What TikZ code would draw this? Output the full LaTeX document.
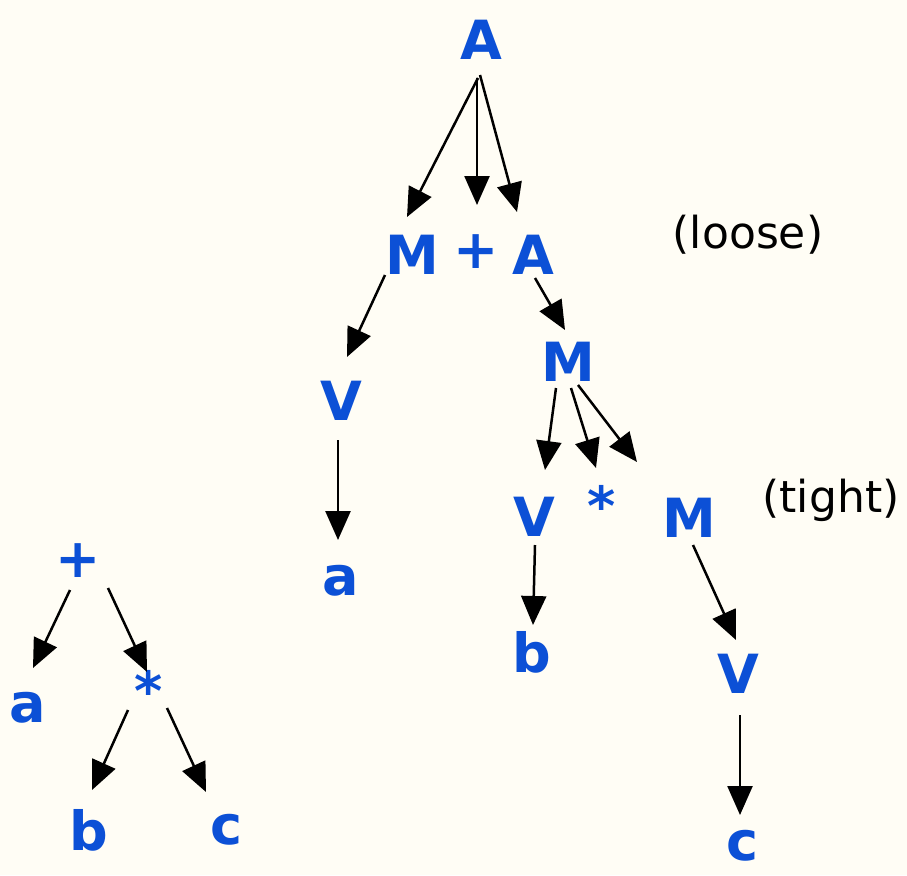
\documentclass[tikz,border=0pt]{standalone}
\usepackage{fontspec}
\setmainfont{DejaVu Sans}
\usetikzlibrary{arrows.meta,calc}
\definecolor{bg}{RGB}{255,253,245}
\definecolor{tblue}{RGB}{12,80,214}
\tikzset{
  sym/.style={inner sep=0pt,text=tblue,font=\fontsize{54}{60}\selectfont\bfseries},
  note/.style={inner sep=0pt,text=black,font=\fontsize{44}{50}\selectfont},
  arr/.style={draw=black,line width=2.5pt,-{Triangle[length=29pt,width=25pt]}}
}
\begin{document}
\begin{tikzpicture}[x=1pt,y=-1pt]
\fill[bg] (0,0) rectangle (907,875);
\useasboundingbox (0,0) rectangle (907,875);
% main tree
\node[sym] (A) at (481,40) {A};
\node[sym] (M) at (412,255) {M};
\node[sym] (P) at (476,252) {+};
\node[sym] (A2) at (533,255) {A};
\node[sym] (V1) at (341,401) {V};
\node[sym] (a1) at (341,581) {a};
\node[sym] (M2) at (568,362) {M};
\node[sym] (V2) at (534,517) {V};
\node[sym] (S) at (602,505) {*};
\node[sym] (M3) at (689,518) {M};
\node[sym] (b1) at (532,652) {b};
\node[sym] (V3) at (738,674) {V};
\node[sym] (c1) at (742,846) {c};
\node[note] (loose) at (748,235) {(loose)};
\node[note] (tight) at (831,500) {(tight)};
% left tree
\node[sym] (lp) at (78,561) {+};
\node[sym] (la) at (28,708) {a};
\node[sym] (ls) at (149,690) {*};
\node[sym] (lb) at (89,830) {b};
\node[sym] (lc) at (227,830) {c};
% arrows main
\draw[arr] ($(A)+(-3,38)$) -- ($(M)+(-5,-38)$);
\draw[arr] ($(A)+(-4,38)$) -- ($(P)+(1,-47)$);
\draw[arr] ($(A)+(-1,35)$) -- ($(A2)+(-16,-43)$);
\draw[arr] ($(M)+(-27,20)$) -- ($(V1)+(6,-44)$);
\draw[arr] ($(A2)+(2,23)$) -- ($(M2)+(-3,-32)$);
\draw[arr] ($(V1)+(-3,39)$) -- ($(a1)+(-3,-41)$);
\draw[arr] ($(M2)+(-12,26)$) -- ($(V2)+(11,-47)$);
\draw[arr] ($(M2)+(3,26)$) -- ($(S)+(-6,-37)$);
\draw[arr] ($(M2)+(10,23)$) -- ($(M3)+(-52,-56)$);
\draw[arr] ($(V2)+(1,28)$) -- ($(b1)+(1,-27)$);
\draw[arr] ($(M3)+(4,27)$) -- ($(V3)+(-2,-34)$);
\draw[arr] ($(V3)+(2,41)$) -- ($(c1)+(-2,-31)$);
% arrows left
\draw[arr] ($(lp)+(-8,29)$) -- ($(la)+(5,-40)$);
\draw[arr] ($(lp)+(30,27)$) -- ($(ls)+(-2,-18)$);
\draw[arr] ($(ls)+(-21,20)$) -- ($(lb)+(3,-40)$);
\draw[arr] ($(ls)+(18,18)$) -- ($(lc)+(-21,-38)$);
\end{tikzpicture}
\end{document}
